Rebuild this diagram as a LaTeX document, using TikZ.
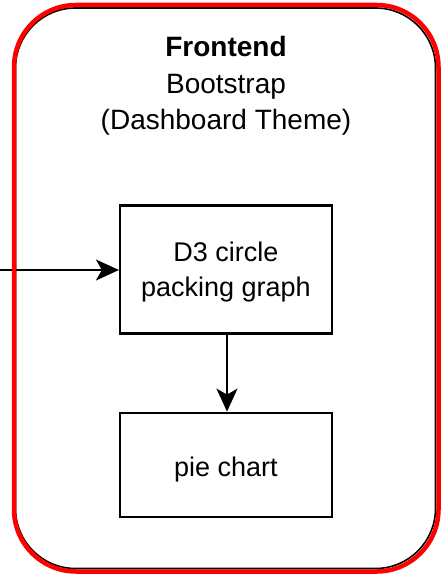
\documentclass[tikz,border=0pt]{standalone}
\usepackage{fontspec}
\setmainfont{Liberation Sans}
\usetikzlibrary{arrows.meta}
\tikzset{
  box/.style={draw=black, line width=2.2pt, fill=white, minimum width=212pt, inner sep=0pt},
  boxtext/.style={align=center, inner sep=0pt, font=\fontsize{27}{35}\selectfont},
  conn/.style={draw=black, line width=2pt, -{Stealth[length=23pt, width=21pt, inset=6pt]}},
  hdr/.style={align=center, inner sep=0pt, font=\fontsize{28}{36.6}\selectfont}
}
\begin{document}
\begin{tikzpicture}[x=1pt, y=-1pt]
\useasboundingbox (0,0) rectangle (442,577);
% inner black outline
\draw[black, line width=1.6pt, rounded corners=60pt] (15.5,8) rectangle (435.5,568.5);
% boxes
\node[box, minimum height=128pt] (d3) at (226,269.5) {};
\node[box, minimum height=104pt] (pie) at (226,464.7) {};
\node[boxtext] (d3t) at (226,272.4) {D3 circle\\packing graph};
\node[boxtext] (piet) at (226,469.2) {pie chart};
\coordinate (in) at (0,270);
% connectors
\draw[conn] (in) -- (d3.west |- in);
\draw[conn] (d3.south -| 227,0) -- (pie.north -| 227,0);
% outer red outline (drawn on top)
\draw[red, line width=4.5pt, rounded corners=62pt] (14,5) rectangle (438.5,571.5);
% header
\node[hdr, anchor=north] (title) at (226,36) {\textbf{Frontend}\\Bootstrap\\(Dashboard Theme)};
\end{tikzpicture}
\end{document}
